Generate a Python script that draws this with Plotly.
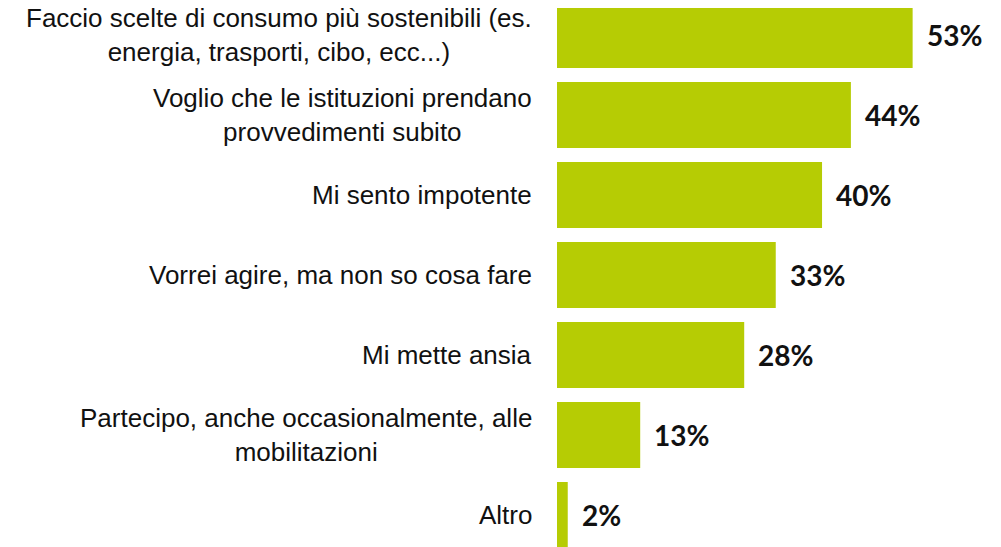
import plotly.graph_objects as go

labels = ['Faccio scelte di consumo più sostenibili (es.<br>energia, trasporti, cibo, ecc...)',
          'Voglio che le istituzioni prendano<br>provvedimenti subito',
          'Mi sento impotente',
          'Vorrei agire, ma non so cosa fare',
          'Mi mette ansia',
          'Partecipo, anche occasionalmente, alle<br>mobilitazioni',
          'Altro']
values = [53.0, 43.8, 39.5, 32.6, 27.9, 12.4, 1.6]
pct = [53, 44, 40, 33, 28, 13, 2]
cats = list(range(len(labels)))

fig = go.Figure(go.Bar(x=values, y=cats, orientation='h',
                       marker=dict(color='#b6cc04', line=dict(width=0)),
                       hoverinfo='skip'))

for i, (lab, v, p) in enumerate(zip(labels, values, pct)):
    fig.add_annotation(x=0, xref='paper', y=i, yref='y', text=lab,
                       xanchor='right', align='center', showarrow=False,
                       xshift=-23,
                       font=dict(family='Liberation Sans, Arial', size=26,
                                 color='#111111'))
    fig.add_annotation(x=v, y=i, text='<b>%d%%</b>' % p, xanchor='left',
                       showarrow=False, xshift=12,
                       font=dict(family='Lato', size=28, color='#111111'))

# page body has an 8px margin, so the figure is sized to fit the window
fig.update_layout(width=993, height=539, bargap=0.175,
                  margin=dict(l=549, r=0, t=0, b=0),
                  plot_bgcolor='white', paper_bgcolor='white',
                  showlegend=False)
fig.update_xaxes(range=[0, 66.17], visible=False)
fig.update_yaxes(range=[6.4, -0.3375], visible=False)

fig.write_html("out.html")
